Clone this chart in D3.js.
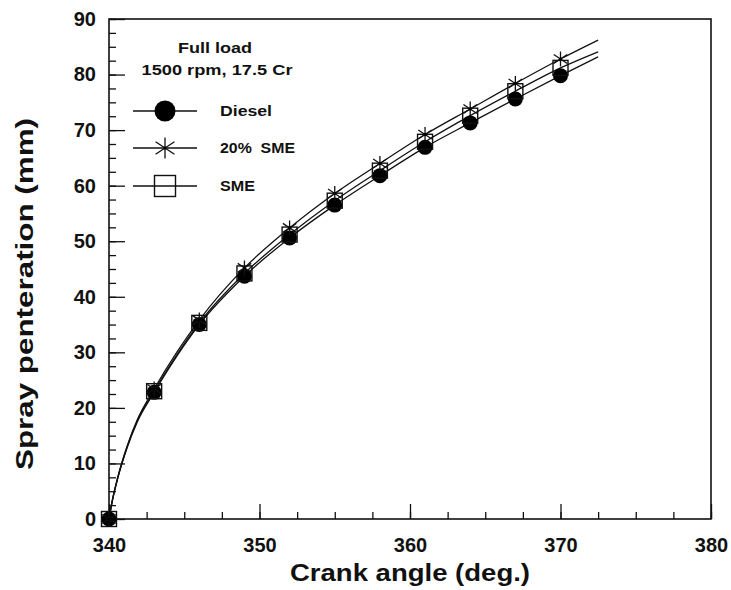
<!DOCTYPE html>
<html>
<head>
<meta charset="utf-8">
<style>
body { margin: 0; background: #fff; }
text { font-family: "Liberation Sans", Arial, sans-serif; font-weight: bold; fill: #111; white-space: pre; }
</style>
</head>
<body>
<div id="chart"></div>
<script src="https://d3js.org/d3.v7.min.js"></script>
<script>
// crank angles along the drawn curves, markers every 3 deg
var angles = [340, 340.2, 340.6, 341.2, 341.9, 343, 346, 349, 352, 355, 358, 361, 364, 367, 370, 372.5];
var markAngles = [340, 343, 346, 349, 352, 355, 358, 361, 364, 367, 370];
var diesel = [0, 3.0, 7.5, 12.8, 17.6, 22.8, 35.0, 43.7, 50.6, 56.5, 61.8, 66.9, 71.3, 75.6, 79.8, 83.2];
var sme20  = [0, 3.1, 7.7, 13.1, 18.0, 23.4, 35.8, 45.2, 52.4, 58.6, 64.0, 69.2, 73.8, 78.4, 82.8, 86.2];
var sme    = [0, 3.0, 7.6, 12.9, 17.8, 23.0, 35.3, 44.2, 51.2, 57.3, 62.7, 67.9, 72.6, 77.0, 81.2, 84.1];
var seriesNames = ["Diesel", "20%  SME", "SME"];
var xTicks = [340, 350, 360, 370, 380];
var yTicks = [0, 10, 20, 30, 40, 50, 60, 70, 80, 90];

var margin = {top: 19, right: 20, bottom: 71, left: 109},
    width = 731 - margin.left - margin.right,
    height = 590 - margin.top - margin.bottom;

var svg = d3.select("#chart").append("svg")
    .attr("width", 731)
    .attr("height", 590);
var g = svg.append("g")
    .attr("transform", "translate(" + margin.left + "," + margin.top + ")");

var x = d3.scaleLinear().domain([340, 380]).range([0, width]);
var y = d3.scaleLinear().domain([0, 90]).range([height, 0]);

// minor ticks (inside)
g.append("g")
    .attr("transform", "translate(0," + height + ")")
    .call(d3.axisBottom(x).tickValues(d3.range(340, 380.1, 2.5)).tickSize(-7).tickFormat(""))
    .call(function(a) { a.select(".domain").remove(); });
g.append("g")
    .call(d3.axisLeft(y).tickValues(d3.range(0, 90.1, 2.5)).tickSize(-7).tickFormat(""))
    .call(function(a) { a.select(".domain").remove(); });

// major ticks + labels
var xAxis = g.append("g")
    .attr("transform", "translate(0," + height + ")")
    .call(d3.axisBottom(x).tickValues(xTicks).tickSize(-15).tickPadding(19).tickFormat(d3.format("d")));
var yAxis = g.append("g")
    .call(d3.axisLeft(y).tickValues(yTicks).tickSize(-16).tickPadding(13).tickFormat(d3.format("d")));
[xAxis, yAxis].forEach(function(a) {
  a.select(".domain").remove();
  a.selectAll("text").attr("font-size", 20).attr("font-family", null).attr("fill", "#111");
});
g.selectAll(".tick line").attr("stroke", "#111").attr("stroke-width", 1.3);

// frame
g.append("rect")
    .attr("width", width).attr("height", height)
    .attr("fill", "none").attr("stroke", "#111").attr("stroke-width", 1.6);

// titles
svg.append("text")
    .attr("x", 290).attr("y", 581)
    .attr("font-size", 24)
    .attr("textLength", 240).attr("lengthAdjust", "spacingAndGlyphs")
    .text("Crank angle (deg.)");
svg.append("text")
    .attr("transform", "translate(33,470)rotate(-90)")
    .attr("font-size", 24)
    .attr("textLength", 352).attr("lengthAdjust", "spacingAndGlyphs")
    .text("Spray penteration (mm)");

// curves
var line = d3.line()
    .x(function(d) { return x(d[0]); })
    .y(function(d) { return y(d[1]); })
    .curve(d3.curveMonotoneX);

var series = [
  {name: seriesNames[0], values: diesel, type: "circle"},
  {name: seriesNames[2], values: sme, type: "square"},
  {name: seriesNames[1], values: sme20, type: "star"}
];

series.forEach(function(s) {
  var pts = angles.map(function(a, i) { return [a, s.values[i]]; });
  g.append("path")
      .datum(pts)
      .attr("fill", "none")
      .attr("stroke", "#111")
      .attr("stroke-width", 1.3)
      .attr("d", line);
});

function marker(sel, type, size) {
  if (type === "circle") {
    sel.append("circle").attr("r", size / 2).attr("fill", "#000");
  } else if (type === "square") {
    sel.append("rect")
        .attr("x", -size / 2).attr("y", -size / 2)
        .attr("width", size).attr("height", size)
        .attr("fill", "none").attr("stroke", "#111").attr("stroke-width", 1.4);
  } else {
    var h = size / 2, dx = h * 0.9, dy = h * 0.6;
    sel.append("path")
        .attr("d", "M0," + (-h) + "L0," + h +
                   "M" + (-dx) + "," + (-dy) + "L" + dx + "," + dy +
                   "M" + (-dx) + "," + dy + "L" + dx + "," + (-dy))
        .attr("stroke", "#111").attr("stroke-width", 1.3).attr("fill", "none");
    sel.append("circle").attr("r", 1.6).attr("fill", "#000");
  }
}

series.forEach(function(s) {
  var pts = [];
  angles.forEach(function(a, i) {
    if (markAngles.indexOf(a) >= 0) pts.push([a, s.values[i]]);
  });
  g.selectAll(null)
      .data(pts)
      .enter().append("g")
      .attr("transform", function(d) { return "translate(" + x(d[0]) + "," + y(d[1]) + ")"; })
      .each(function() { marker(d3.select(this), s.type, s.type === "circle" ? 15 : 15); });
});

// legend
svg.append("text").attr("x", 215).attr("y", 53).attr("text-anchor", "middle")
    .attr("font-size", 14).attr("textLength", 74).attr("lengthAdjust", "spacingAndGlyphs")
    .text("Full load");
svg.append("text").attr("x", 217).attr("y", 75).attr("text-anchor", "middle")
    .attr("font-size", 14).attr("textLength", 151).attr("lengthAdjust", "spacingAndGlyphs")
    .text("1500 rpm, 17.5 Cr");

var legendRows = [
  {name: seriesNames[0], type: "circle", y: 111, w: 52},
  {name: seriesNames[1], type: "star", y: 148, w: 75},
  {name: seriesNames[2], type: "square", y: 186, w: 35}
];
legendRows.forEach(function(r) {
  var lg = svg.append("g").attr("transform", "translate(165," + r.y + ")");
  lg.append("line").attr("x1", -32).attr("x2", 32)
      .attr("stroke", "#111").attr("stroke-width", 1.3);
  marker(lg, r.type, 21);
  svg.append("text").attr("x", 220).attr("y", r.y + 5)
      .attr("font-size", 14).attr("textLength", r.w).attr("lengthAdjust", "spacingAndGlyphs")
      .text(r.name);
});
</script>
</body>
</html>
